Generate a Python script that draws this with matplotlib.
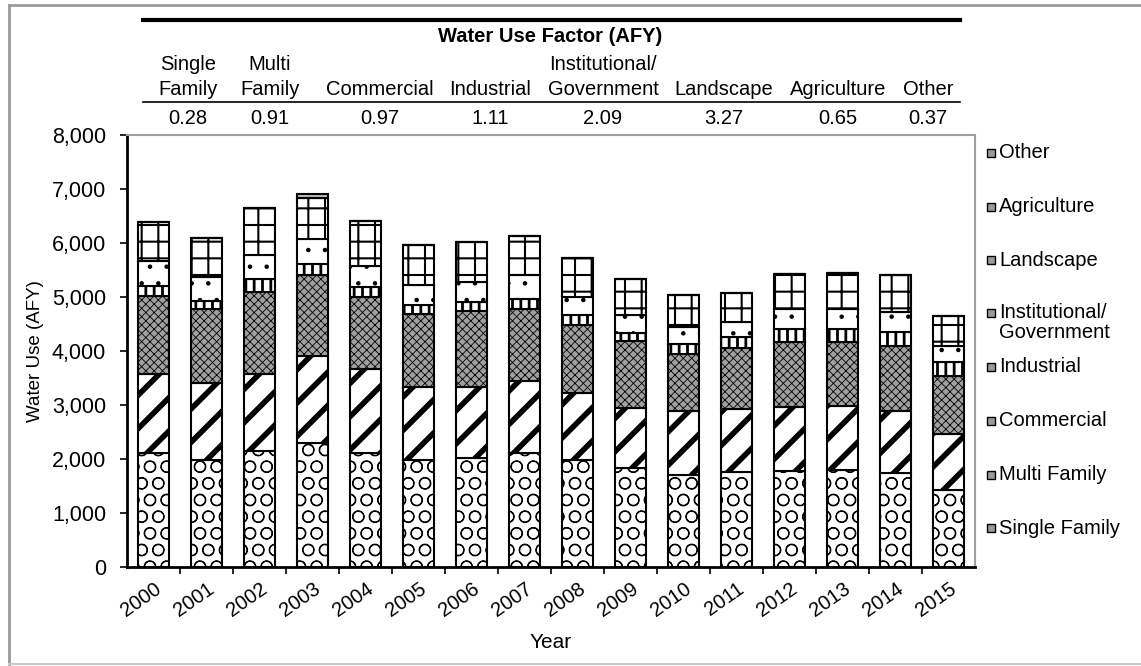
import matplotlib.pyplot as plt
import numpy as np
from matplotlib.lines import Line2D
from matplotlib.patches import Rectangle

plt.rcParams['font.family'] = ['Liberation Sans', 'DejaVu Sans']

years = [str(y) for y in range(2000, 2016)]
single_family = [2115, 1990, 2145, 2300, 2115, 1990, 2020, 2115, 1980, 1835, 1710, 1755, 1775, 1805, 1745, 1435]
multi_family = [1455, 1425, 1425, 1610, 1550, 1335, 1305, 1335, 1250, 1115, 1180, 1165, 1180, 1180, 1145, 1020]
commercial = [1455, 1365, 1520, 1490, 1335, 1365, 1425, 1335, 1255, 1240, 1055, 1130, 1210, 1180, 1210, 1085]
industrial = [185, 155, 250, 215, 185, 155, 155, 185, 175, 145, 185, 205, 250, 250, 250, 250]
institutional = [450, 435, 435, 465, 390, 385, 375, 435, 340, 335, 310, 280, 370, 360, 370, 310]
landscape = [730, 715, 880, 745, 830, 730, 730, 730, 725, 655, 600, 545, 650, 665, 685, 545]
agriculture = [0, 0, 0, 0, 0, 0, 0, 0, 0, 0, 0, 0, 0, 0, 0, 0]
other = [0, 0, 0, 75, 0, 0, 0, 0, 0, 0, 0, 0, 0, 0, 0, 0]

series_names = ["Single Family", "Multi Family", "Commercial", "Industrial",
                "Institutional/\nGovernment", "Landscape", "Agriculture", "Other"]
series_vals = [single_family, multi_family, commercial, industrial,
               institutional, landscape, agriculture, other]

factor_labels = ["Single\nFamily", "Multi\nFamily", "Commercial", "Industrial",
                 "Institutional/\nGovernment", "Landscape", "Agriculture", "Other"]
factor_values = ["0.28", "0.91", "0.97", "1.11", "2.09", "3.27", "0.65", "0.37"]

# fill, hatch, hatch linewidth for each series
styles = [("white", "O", 0.8),
          ("white", "/", 4.0),
          ("#a0a0a0", "xxxx", 0.6),
          ("white", "||", 2.0),
          ("white", ".", 0.8),
          ("white", "+", 1.5),
          ("#6e6e6e", "", 1.0),
          ("#bdbdbd", "", 1.0)]

W, H = 1141, 666
fig = plt.figure(figsize=(W / 100, H / 100), dpi=100)
ax = fig.add_axes([127 / W, 1 - 567 / H, (975 - 127) / W, (567 - 135) / H])

x = np.arange(len(years))
bottom = np.zeros(len(years))
for vals, (fc, hatch, hlw) in zip(series_vals, styles):
    vals = np.array(vals, dtype=float)
    with plt.rc_context({'hatch.linewidth': hlw}):
        bars = ax.bar(x, vals, 0.6, bottom=bottom, color=fc, edgecolor='black',
                      hatch=hatch, linewidth=1.5)
    for b in bars:
        if hasattr(b, 'set_hatch_linewidth'):
            b.set_hatch_linewidth(hlw)
    bottom += vals

ax.set_xlim(-0.5, len(years) - 0.5)
ax.set_ylim(0, 8000)
ax.set_yticks(np.arange(0, 8001, 1000))
ax.set_yticklabels([f"{v:,}" for v in range(0, 8001, 1000)], fontsize=15.5)
ax.set_xticks(x)
ax.set_xticklabels(years, rotation=35, ha='right', rotation_mode='anchor', fontsize=14.5)
ax.set_xticks(x[:-1] + 0.5, minor=True)
ax.tick_params(axis='x', which='major', length=0, pad=9)
ax.tick_params(axis='x', which='minor', length=5, width=1.2)
ax.tick_params(axis='y', length=5, width=1.2, pad=10)
for s in ['left', 'bottom']:
    ax.spines[s].set_linewidth(2)
for s in ['top', 'right']:
    ax.spines[s].set_color('#a0a0a0')
    ax.spines[s].set_linewidth(1.5)
ax.set_xlabel("Year", fontsize=15)
ax.set_ylabel("Water Use (AFY)", fontsize=13.5)
ax.xaxis.set_label_coords(0.5, -0.152)
ax.yaxis.set_label_coords(-0.098, 0.5)

# header table
def fx(px):
    return px / W

def fy(py):
    return 1 - py / H

fig.add_artist(Line2D([fx(143), fx(960)], [fy(20), fy(20)], color='black', lw=3))
fig.add_artist(Line2D([fx(143), fx(960)], [fy(102), fy(102)], color='black', lw=1.2))
fig.text(fx(550), fy(37), "Water Use Factor (AFY)", ha='center', va='center',
         fontsize=14.5, fontweight='bold')
col_x = [188, 270, 380, 490, 603, 724, 838, 928]
for cx, lab, val in zip(col_x, factor_labels, factor_values):
    fig.text(fx(cx), fy(99), lab, ha='center', va='bottom', fontsize=14.5, linespacing=1.4)
    fig.text(fx(cx), fy(118), val, ha='center', va='center', fontsize=14.5)

# legend, top to bottom
leg_y = [153, 207, 260, 313, 367, 421, 475, 528]
for (name, (fc, hatch, hlw)), ly in zip(list(zip(series_names, styles))[::-1], leg_y):
    fig.add_artist(Rectangle((fx(987), fy(ly + 4)), 8 / W, 8 / H, transform=fig.transFigure,
                             facecolor='#9a9a9a', edgecolor='black', lw=1))
    if '\n' in name:
        fig.text(fx(999), fy(ly - 10), name, ha='left', va='top', fontsize=14.5, linespacing=1.1)
    else:
        fig.text(fx(999), fy(ly), name, ha='left', va='center', fontsize=14.5)

# outer frame
fig.add_artist(Line2D([fx(9), fx(9)], [fy(5), fy(664)], color='#9a9a9a', lw=2))
fig.add_artist(Line2D([fx(9), fx(1141)], [fy(5), fy(5)], color='#9a9a9a', lw=2))
fig.add_artist(Line2D([fx(9), fx(1141)], [fy(664), fy(664)], color='#c8c8c8', lw=1.5))

plt.savefig("out.png", dpi=100)
